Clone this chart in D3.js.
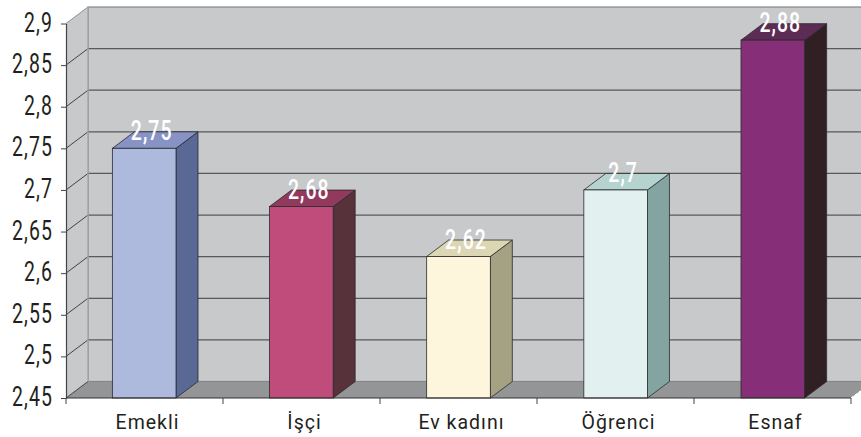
<!DOCTYPE html>
<html>
<head>
<meta charset="utf-8">
<script src="https://cdn.jsdelivr.net/npm/d3@7"></script>
<style>
    html,body{margin:0;padding:0;background:#fff;}
    svg{display:block;}
    text{font-family:Roboto,"Noto Sans",sans-serif;}
</style>
</head>
<body>
<div id="chart"></div>
<script>
// values
const categories = ['Emekli','İşçi','Ev kadını','Öğrenci','Esnaf'];
const values = [2.75,2.68,2.62,2.70,2.88];
const valueLabels = ['2,75','2,68','2,62','2,7','2,88'];
const yTicks = [2.45,2.5,2.55,2.6,2.65,2.7,2.75,2.8,2.85,2.9];
const frontColors = ['#adbade','#c04c7c','#fdf6dd','#e2f1ef','#862e78'];
const topColors = ['#8793c4','#913a5e','#dcd6b4','#b6d4cf','#5c2c55'];
const sideColors = ['#5a6896','#57323a','#a5a283','#83a4a1','#302024'];

const width = 861, height = 437;
const depthX = 22, depthY = 16.5;
const plotLeft = 66, plotRight = 851, plotTop = 23.5, plotBottom = 398;

let svg = d3.select('#chart').append('svg')
    .attr('width',width).attr('height',height);

let sclX = d3.scaleBand().domain(categories).range([plotLeft,plotRight]).paddingInner(0.595).paddingOuter(0.295);
let sclY = d3.scaleLinear().domain([2.45,2.9]).range([plotBottom,plotTop]);
let tickX = d3.scaleBand().domain(categories).range([plotLeft,plotRight]);

let poly = (pts)=>pts.map(p=>p.join(',')).join(' ');

// back wall, side wall and floor
svg.append('rect')
    .attr('x',plotLeft+depthX).attr('y',plotTop-depthY)
    .attr('width',plotRight-plotLeft+20).attr('height',plotBottom-plotTop)
    .attr('fill','#c8c9cb').attr('stroke','#85868a').attr('stroke-width',1.2);
svg.append('polygon')
    .attr('points',poly([[plotLeft,plotTop],[plotLeft+depthX,plotTop-depthY],[plotLeft+depthX,plotBottom-depthY],[plotLeft,plotBottom]]))
    .attr('fill','#c8c9cb');
svg.append('polygon')
    .attr('points',poly([[plotLeft,plotBottom],[plotLeft+depthX,plotBottom-depthY],[plotRight+depthX,plotBottom-depthY],[plotRight,plotBottom]]))
    .attr('fill','#949597');

// grid lines, back wall and diagonals on the side wall
let grid = svg.append('g');
grid.selectAll('.back').data(yTicks.slice(1,-1).concat([2.45]))
    .enter().append('line')
    .attr('x1',plotLeft+depthX).attr('x2',width)
    .attr('y1',d=>sclY(d)-depthY).attr('y2',d=>sclY(d)-depthY)
    .attr('stroke',d=>d==2.45?'#85868a':'#58595b').attr('stroke-width',1.2);
grid.selectAll('.diag').data(yTicks)
    .enter().append('line')
    .attr('x1',plotLeft).attr('x2',plotLeft+depthX)
    .attr('y1',d=>sclY(d)).attr('y2',d=>sclY(d)-depthY)
    .attr('stroke',d=>d==2.9?'#85868a':'#333').attr('stroke-width',0.9);
svg.append('line')
    .attr('x1',plotLeft+depthX).attr('x2',plotLeft+depthX)
    .attr('y1',plotTop-depthY).attr('y2',plotBottom-depthY)
    .attr('stroke','#a3a4a6').attr('stroke-width',1.4);
svg.append('line')
    .attr('x1',plotRight).attr('x2',plotRight+depthX)
    .attr('y1',plotBottom).attr('y2',plotBottom-depthY)
    .attr('stroke','#fff').attr('stroke-width',1).attr('stroke-dasharray','3,1.5');

// bars
let bars = svg.selectAll('.bar').data(values)
    .enter().append('g').attr('class','bar');
bars.append('polygon')
    .attr('points',(d,i)=>{
        let x1 = sclX(categories[i])+sclX.bandwidth(), y = sclY(d);
        return poly([[x1,y],[x1+depthX,y-depthY],[x1+depthX,plotBottom-depthY],[x1,plotBottom]]);
    })
    .attr('fill',(d,i)=>sideColors[i]).attr('stroke','#2b2a2c').attr('stroke-width',0.8);
bars.append('polygon')
    .attr('points',(d,i)=>{
        let x0 = sclX(categories[i]), x1 = x0+sclX.bandwidth(), y = sclY(d);
        return poly([[x0,y],[x0+depthX,y-depthY],[x1+depthX,y-depthY],[x1,y]]);
    })
    .attr('fill',(d,i)=>topColors[i]).attr('stroke','#2b2a2c').attr('stroke-width',0.8);
bars.append('rect')
    .attr('x',(d,i)=>sclX(categories[i]))
    .attr('y',d=>sclY(d))
    .attr('width',sclX.bandwidth())
    .attr('height',d=>plotBottom-sclY(d))
    .attr('fill',(d,i)=>frontColors[i]).attr('stroke','#2b2a2c').attr('stroke-width',0.8);

// value labels, narrow face made by squeezing the text
bars.append('text')
    .attr('transform',(d,i)=>'translate('+(sclX(categories[i])+sclX.bandwidth()/2+7.5)+','+(sclY(d)-8)+') scale(0.72,1)')
    .attr('text-anchor','middle')
    .attr('font-size',27)
    .attr('font-weight',500)
    .attr('letter-spacing',1.5)
    .attr('fill','#fff')
    .text((d,i)=>valueLabels[i]);

// y axis
let axisY = svg.append('g').attr('transform','translate('+plotLeft+',0)')
    .call(d3.axisLeft(sclY).tickValues(yTicks).tickSize(5).tickSizeOuter(0).tickFormat(d=>String(d).replace('.',',')));
axisY.select('.domain').attr('stroke','#444').attr('stroke-width',1.2);
axisY.selectAll('.tick line').attr('stroke','#444').attr('stroke-width',1);
axisY.selectAll('.tick text')
    .attr('x',0).attr('dy',0).attr('y',0)
    .attr('text-anchor','end')
    .attr('font-size',27)
    .attr('letter-spacing',1.5)
    .attr('font-family','Roboto')
    .attr('fill','#231f20')
    .attr('transform','translate(-13,7.5) scale(0.72,1)');

// x axis, ticks sit between the categories
let axisX = svg.append('g');
axisX.append('line')
    .attr('x1',plotLeft).attr('x2',plotRight).attr('y1',plotBottom).attr('y2',plotBottom)
    .attr('stroke','#333').attr('stroke-width',1.2);
axisX.selectAll('.xtick').data(d3.range(categories.length+1))
    .enter().append('line')
    .attr('x1',i=>plotLeft+tickX.step()*i).attr('x2',i=>plotLeft+tickX.step()*i)
    .attr('y1',plotBottom).attr('y2',plotBottom+6)
    .attr('stroke','#444').attr('stroke-width',1);
axisX.selectAll('.xlabel').data(categories)
    .enter().append('text')
    .attr('x',d=>tickX(d)+tickX.bandwidth()/2+3)
    .attr('y',429)
    .attr('text-anchor','middle')
    .attr('font-size',19.5)
    .attr('letter-spacing',1)
    .attr('fill','#231f20')
    .text(d=>d);
</script>
</body>
</html>
